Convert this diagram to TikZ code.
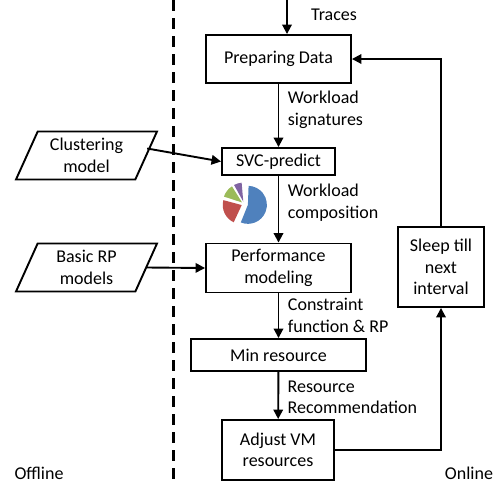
\documentclass[tikz,border=0pt]{standalone}
\usepackage{fontspec}
\setmainfont{Carlito}
\usetikzlibrary{arrows.meta, shapes.geometric, calc}

\definecolor{sliceblue}{HTML}{4F81BD}
\definecolor{slicered}{HTML}{C0504D}
\definecolor{slicegreen}{HTML}{9BBB59}
\definecolor{slicepurple}{HTML}{8064A2}

% one exploded wedge of the small pie: colour, start, end, offset (pt)
\newcommand{\PieSlice}[4]{%
    \fill[#1] ({(#2+#3)/2}:#4pt) -- ++(#2:19pt)
        arc[start angle=#2, end angle=#3, radius=19pt] -- cycle;%
}

\tikzset{
    box/.style={draw, line width=1.9pt, align=center, inner sep=2pt},
    inputbox/.style={draw, line width=1.9pt, align=center, inner sep=1pt,
        trapezium, trapezium left angle=59, trapezium right angle=121,
        trapezium stretches body, minimum width=141pt, minimum height=48pt},
    flow/.style={line width=1.9pt, -{Triangle[length=9.5pt,width=9.5pt]}},
    lbl/.style={anchor=west, align=left, inner sep=0pt, xshift=8.5pt},
    divider/.style={line width=2.6pt, dash pattern=on 11pt off 7pt},
}

\begin{document}
\begin{tikzpicture}[x=1pt, y=-1pt, font=\fontsize{18}{21.5}\selectfont]
    \useasboundingbox (0,0) rectangle (494,483);

    % offline / online split
    \draw[divider] (173.5,0) -- (173.5,483);
    \node (offline) at (39,473) {Offline};
    \node (online)  at (469,473) {Online};

    % main pipeline
    \node[box, minimum width=145pt, minimum height=48pt] (prep)   at (278.5,59)  {Preparing Data};
    \node[box, minimum width=113pt, minimum height=27pt] (svc)    at (278.5,161.5) {SVC-predict};
    \node[box, minimum width=145pt, minimum height=49pt] (perf)   at (278.5,268) {Performance\\modeling};
    \node[box, minimum width=175pt, minimum height=32pt] (minres) at (278.5,355) {Min resource};
    \node[box, minimum width=112pt, minimum height=60pt] (adjust) at (278,450)   {Adjust VM\\resources};
    \node[box, minimum width=86pt,  minimum height=80pt] (sleep)  at (441,267)   {Sleep till\\next\\interval};

    % offline inputs
    \node[inputbox] (clust) at (86.5,155.5) {Clustering\\model};
    \node[inputbox] (basic) at (86.5,267.5) {Basic RP\\models};

    % workload mix
    \begin{scope}[shift={(244,204)}]
        \PieSlice{sliceblue}{-112}{88}{4}
        \PieSlice{slicered}{165}{245}{2.5}
        \PieSlice{slicegreen}{122}{162}{2.5}
        \PieSlice{slicepurple}{95}{119}{2.5}
    \end{scope}

    % connectors
    \coordinate (traces) at (287,0);
    \draw[flow] (traces) -- (traces |- prep.north);
    \node (tracelbl) at (334,15) {Traces};

    \draw[flow] (prep) -- node[lbl, pos=0.41] {Workload\\signatures} (svc);
    \draw[flow] (svc) -- node[lbl, pos=0.4] {Workload\\composition} (perf);
    \draw[flow] (perf) -- node[lbl, pos=0.49] {Constraint\\function \& RP} (minres);
    \draw[flow] (minres) -- node[lbl, pos=0.54] {Resource\\Recommendation} (adjust);

    \draw[flow] ([yshift=7pt]clust.east) -- (svc.west);
    \draw[flow] (basic.east) -- (perf.west);

    \draw[flow] (adjust.east) -| (sleep.south);
    \draw[flow] (sleep.north) |- (prep.east);
\end{tikzpicture}
\end{document}
